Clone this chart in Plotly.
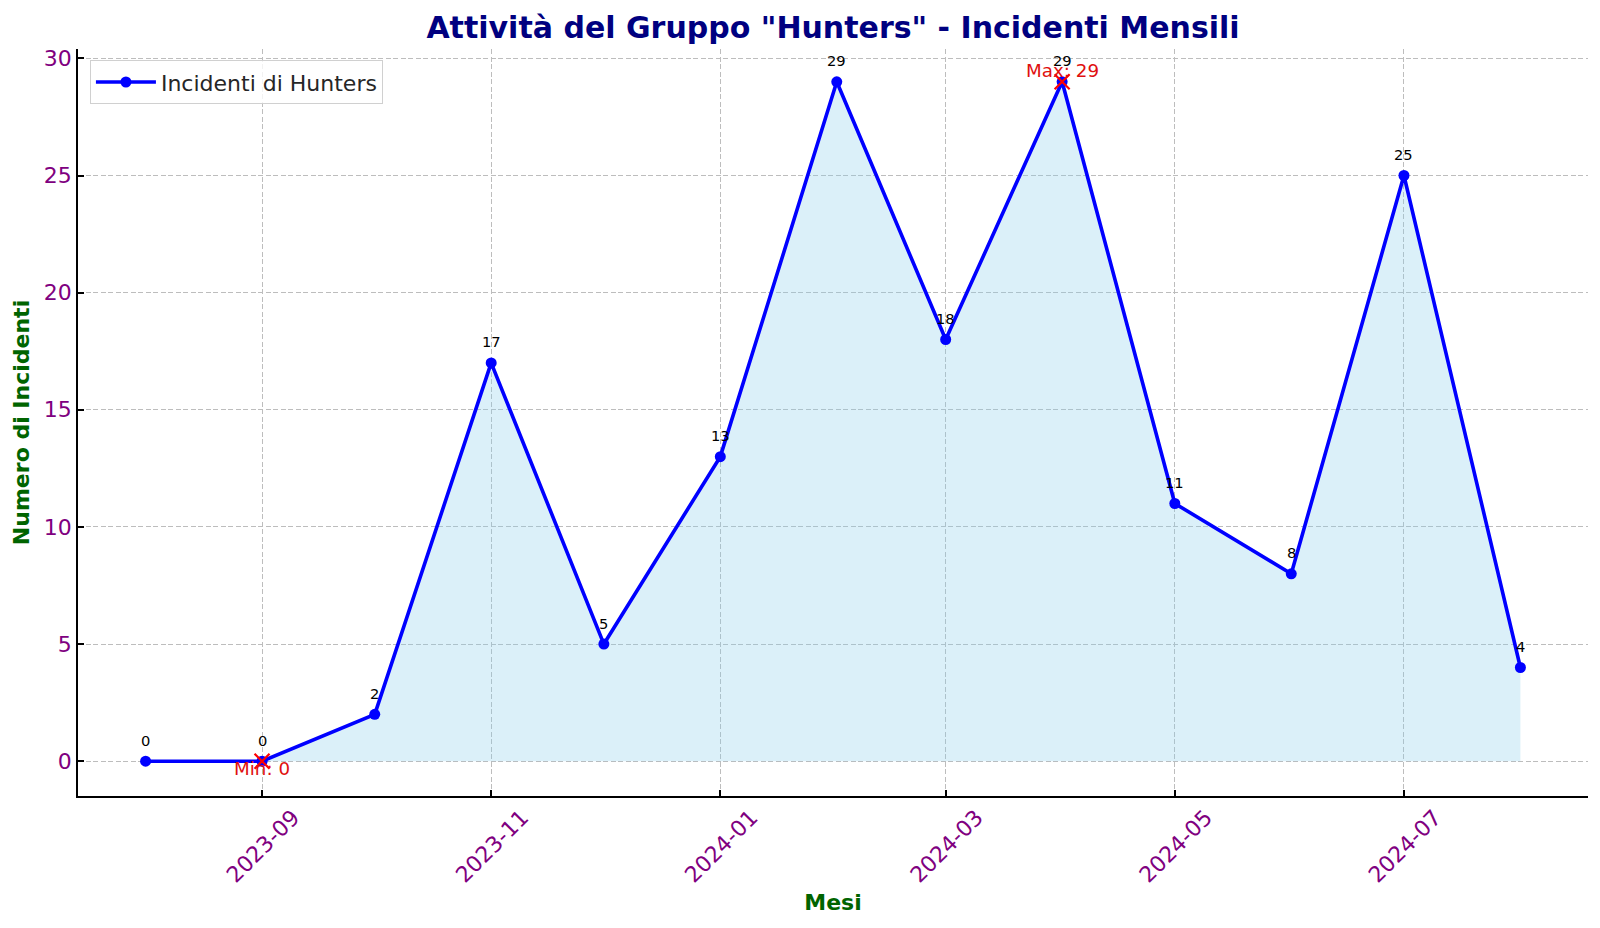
import plotly.graph_objects as go

# dati mensili (inizio mese)
mesi = ['2023-08-01', '2023-09-01', '2023-10-01', '2023-11-01', '2023-12-01',
        '2024-01-01', '2024-02-01', '2024-03-01', '2024-04-01', '2024-05-01',
        '2024-06-01', '2024-07-01', '2024-08-01']
incidenti = [0, 0, 2, 17, 5, 13, 29, 18, 29, 11, 8, 25, 4]

# punti marcati come minimo e massimo nel grafico originale
i_min = 1
i_max = 8

fig = go.Figure()

# area sotto la linea
fig.add_trace(go.Scatter(
    x=mesi, y=incidenti, mode='lines', fill='tozeroy',
    line=dict(color='rgba(135,206,235,0.35)', width=1),
    fillcolor='rgba(135,206,235,0.3)', showlegend=False, hoverinfo='skip'
))

# linea principale
fig.add_trace(go.Scatter(
    x=mesi, y=incidenti, mode='lines+markers',
    line=dict(color='blue', width=3.6),
    marker=dict(color='blue', size=11),
    name='Incidenti di Hunters'
))

# etichette dei valori
for m, v in zip(mesi, incidenti):
    fig.add_annotation(x=m, y=v, text=str(v), showarrow=False, yshift=21,
                       font=dict(size=14.7, color='black'))

# min e max
fig.add_trace(go.Scatter(
    x=[mesi[i_min], mesi[i_max]], y=[incidenti[i_min], incidenti[i_max]],
    mode='markers', marker=dict(symbol='x-thin', size=15, line=dict(color='red', width=2.2)),
    showlegend=False, hoverinfo='skip'
))
fig.add_annotation(x=mesi[i_min], y=incidenti[i_min], text='Min: %d' % incidenti[i_min],
                   showarrow=False, yshift=-7, font=dict(size=18.3, color='#e01010'))
fig.add_annotation(x=mesi[i_max], y=incidenti[i_max], text='Max: %d' % incidenti[i_max],
                   showarrow=False, yshift=11, font=dict(size=18.3, color='#e01010'))

griglia = dict(showgrid=True, gridcolor='#bdbdbd', griddash='5px,2.5px', gridwidth=1)

fig.update_layout(
    width=1584, height=912,
    font=dict(family='DejaVu Sans'),
    paper_bgcolor='white', plot_bgcolor='white',
    margin=dict(l=70, r=4, t=41, b=124),
    title=dict(text='<b>Attività del Gruppo "Hunters" - Incidenti Mensili</b>',
               x=0.5, xref='paper', xanchor='center', y=1 - 19.6 / 912, yanchor='middle',
               font=dict(size=30, color='#000080')),
    legend=dict(x=0.0079, y=0.985, xanchor='left', yanchor='top', itemwidth=60,
                bordercolor='#d0d0d0', borderwidth=1, bgcolor='rgba(255,255,255,0.8)',
                font=dict(size=22, color='#262626')),
    xaxis=dict(
        type='date', range=['2023-07-14', '2024-08-19'],
        tick0='2023-09-01', dtick='M2', tickformat='%Y-%m', tickangle=-45,
        ticklabelshift=31, ticklabelstandoff=-2,
        tickfont=dict(size=22, color='#800080'),
        showline=True, linecolor='black', linewidth=1.8,
        ticks='inside', ticklen=6, tickcolor='black', tickwidth=1.5,
        title=dict(text='<b>Mesi</b>', font=dict(size=22, color='#006400'), standoff=8),
        zeroline=False, **griglia
    ),
    yaxis=dict(
        range=[-1.485, 30.40], dtick=5,
        tickfont=dict(size=22, color='#800080'),
        showline=True, linecolor='black', linewidth=1.8,
        ticks='inside', ticklen=6, tickcolor='black', tickwidth=1.5,
        title=dict(text='<b>Numero di Incidenti</b>', font=dict(size=22, color='#006400'), standoff=8),
        zeroline=False, **griglia
    ),
)

fig.write_html('out.html')
